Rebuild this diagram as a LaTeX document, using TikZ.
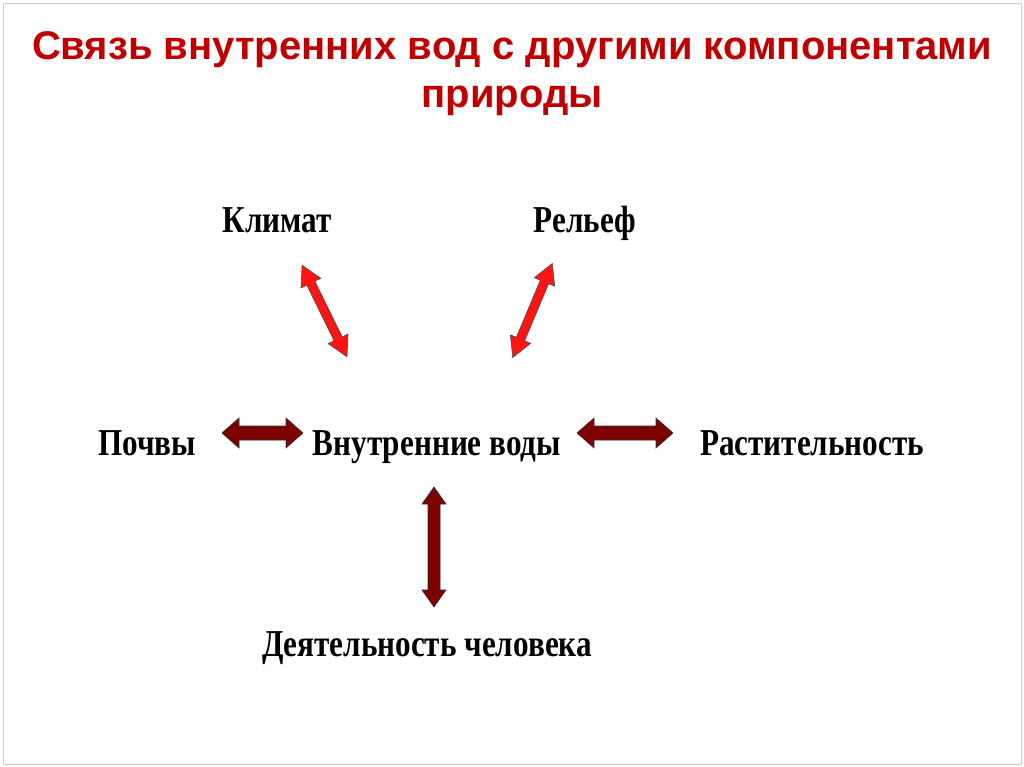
\documentclass[tikz,border=0pt]{standalone}
\usepackage{fontspec}
\setmainfont{Liberation Serif}
\newfontfamily\narrowserif[FakeStretch=0.82]{Liberation Serif}
\newfontfamily\titlefont{Liberation Sans}
\definecolor{titlered}{RGB}{192,0,0}
\definecolor{darkarrow}{RGB}{125,0,0}
\definecolor{brightarrow}{RGB}{255,20,20}
\newcommand\blockarrow[8]{%
 \begin{scope}[shift={(#1,#2)},rotate=#3]
  \draw[#8] (-#4,0) -- (-#4+#7,#6) -- (-#4+#7,#5) -- (#4-#7,#5) -- (#4-#7,#6) -- (#4,0)
   -- (#4-#7,-#6) -- (#4-#7,-#5) -- (-#4+#7,-#5) -- (-#4+#7,-#6) -- cycle;
 \end{scope}}
\begin{document}
\begin{tikzpicture}[x=1pt,y=-1pt,
 lbl/.style={font=\narrowserif\bfseries\fontsize{38}{40}\selectfont, inner sep=0pt, anchor=base},
 title/.style={font=\titlefont\bfseries\fontsize{40}{42}\selectfont, text=titlered, inner sep=0pt, anchor=base},
 redarr/.style={fill=brightarrow, draw=black!70, line width=0.6pt},
 darkarr/.style={fill=darkarrow, draw=black!80, line width=0.6pt}]
\useasboundingbox (0,0) rectangle (1024,767);
\fill[white] (0,0) rectangle (1024,767);
\draw[black!20, line width=0.8pt] (3,3) rectangle (1021,764);
\node[title] (t1) at (512,60) {Связь внутренних вод с другими компонентами};
\node[title] (t2) at (512,108) {природы};
\node[lbl] (klimat) at (277,233) {Климат};
\node[lbl] (relief) at (585,233) {Рельеф};
\node[lbl] (pochvy) at (147,455) {Почвы};
\node[lbl] (vody) at (437,455) {Внутренние воды};
\node[lbl] (rast) at (812,455) {Растительность};
\node[lbl] (deyat) at (427,656) {Деятельность человека};
\blockarrow{324.5}{311}{-63.9}{51}{4.5}{11}{20}{redarr}
\blockarrow{532.5}{310.5}{67.2}{51}{4.5}{11}{20}{redarr}
\blockarrow{262.5}{433}{0}{40.5}{7}{15}{17}{darkarr}
\blockarrow{625}{433}{0}{48}{7}{15}{17}{darkarr}
\blockarrow{434}{547}{90}{60}{6}{12}{17}{darkarr}
\end{tikzpicture}
\end{document}
